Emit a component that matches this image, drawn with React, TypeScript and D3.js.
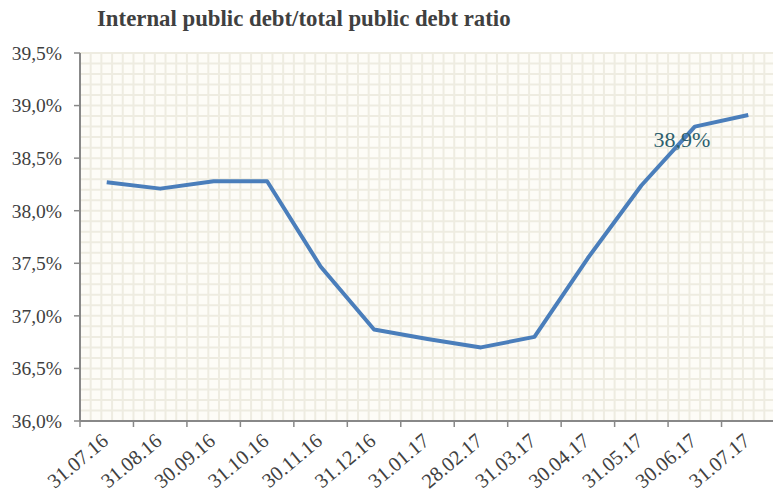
import React from "react";
import * as d3 from "d3";

const categories = ["31.07.16","31.08.16","30.09.16","31.10.16","30.11.16","31.12.16","31.01.17","28.02.17","31.03.17","30.04.17","31.05.17","30.06.17","31.07.17"];
const values = [38.27,38.21,38.28,38.28,37.47,36.87,36.78,36.70,36.80,37.55,38.24,38.80,38.91];
const yTicks = [36.0,36.5,37.0,37.5,38.0,38.5,39.0,39.5];
const title = "Internal public debt/total public debt ratio";
const annotationText = "38,9%";

const W = 773, H = 495;
const L = 80, R = 775, T = 53, B = 421;

export default function App() {
  const x = d3.scaleBand().domain(categories).range([L, R]).paddingInner(0).paddingOuter(0);
  const y = d3.scaleLinear().domain([36, 39.5]).range([B, T]);
  const bw = x.bandwidth();
  const vGrid: number[] = [];
  for (let i = 0; i < categories.length * 5; i++) vGrid.push(L + (i + 1) * bw / 5);
  const hGrid: number[] = d3.range(36.1, 39.51, 0.1);
  const line = d3.line<number>().x((_, i) => (x(categories[i]) as number) + bw / 2).y(d => y(d));
  const last = values.length - 1;
  const ax = (x(categories[last - 1]) as number) + bw / 2;
  const fmt = (v: number) => v.toFixed(1).replace(".", ",") + "%";
  return (
    <svg width={W} height={H} style={{ position: "absolute", left: 0, top: 0, background: "#fff" }} fontFamily="'Liberation Serif', 'Times New Roman', serif">
      <rect x={0} y={0} width={W} height={H} fill="#fff" />
      <rect x={L} y={T} width={R - L} height={B - T} fill="#FDFCF7" />
      {vGrid.map((gx, i) => (
        <line key={"v" + i} x1={gx} x2={gx} y1={T} y2={B} stroke="#EEECE1" strokeWidth={2} />
      ))}
      {hGrid.map((v, i) => (
        <line key={"h" + i} x1={L} x2={R} y1={y(v)} y2={y(v)} stroke="#EEECE1" strokeWidth={2} />
      ))}
      <text x={97} y={26} fontSize={22.8} fontWeight="bold" fill="#404040">{title}</text>
      <line x1={L} x2={L} y1={T} y2={B} stroke="#888" strokeWidth={2} />
      <line x1={L} x2={R} y1={B} y2={B} stroke="#888" strokeWidth={2} />
      {yTicks.map((v, i) => (
        <g key={"yt" + i}>
          <line x1={L - 6} x2={L} y1={y(v)} y2={y(v)} stroke="#888" strokeWidth={1.5} />
          <text x={62} y={y(v)} dy="0.35em" textAnchor="end" fontSize={19.5} fill="#404040">{fmt(v)}</text>
        </g>
      ))}
      {categories.map((c, i) => (
        <line key={"xt" + i} x1={(x(c) as number)} x2={(x(c) as number)} y1={B} y2={B + 6} stroke="#888" strokeWidth={1.5} />
      ))}
      {categories.map((c, i) => {
        const cx = (x(c) as number) + bw / 2 + 3;
        const cy = 443;
        return (
          <text key={"xl" + i} x={cx} y={cy} textAnchor="end" fontSize={20.5} fill="#404040" transform={`rotate(-40 ${cx} ${cy})`}>{c}</text>
        );
      })}
      <path d={line(values) as string} fill="none" stroke="#4A7EBB" strokeWidth={4} strokeLinejoin="round" />
      <text x={ax - 13} y={y(values[last]) + 32} textAnchor="middle" fontSize={22} fill="#2D5F6E">{annotationText}</text>
    </svg>
  );
}
